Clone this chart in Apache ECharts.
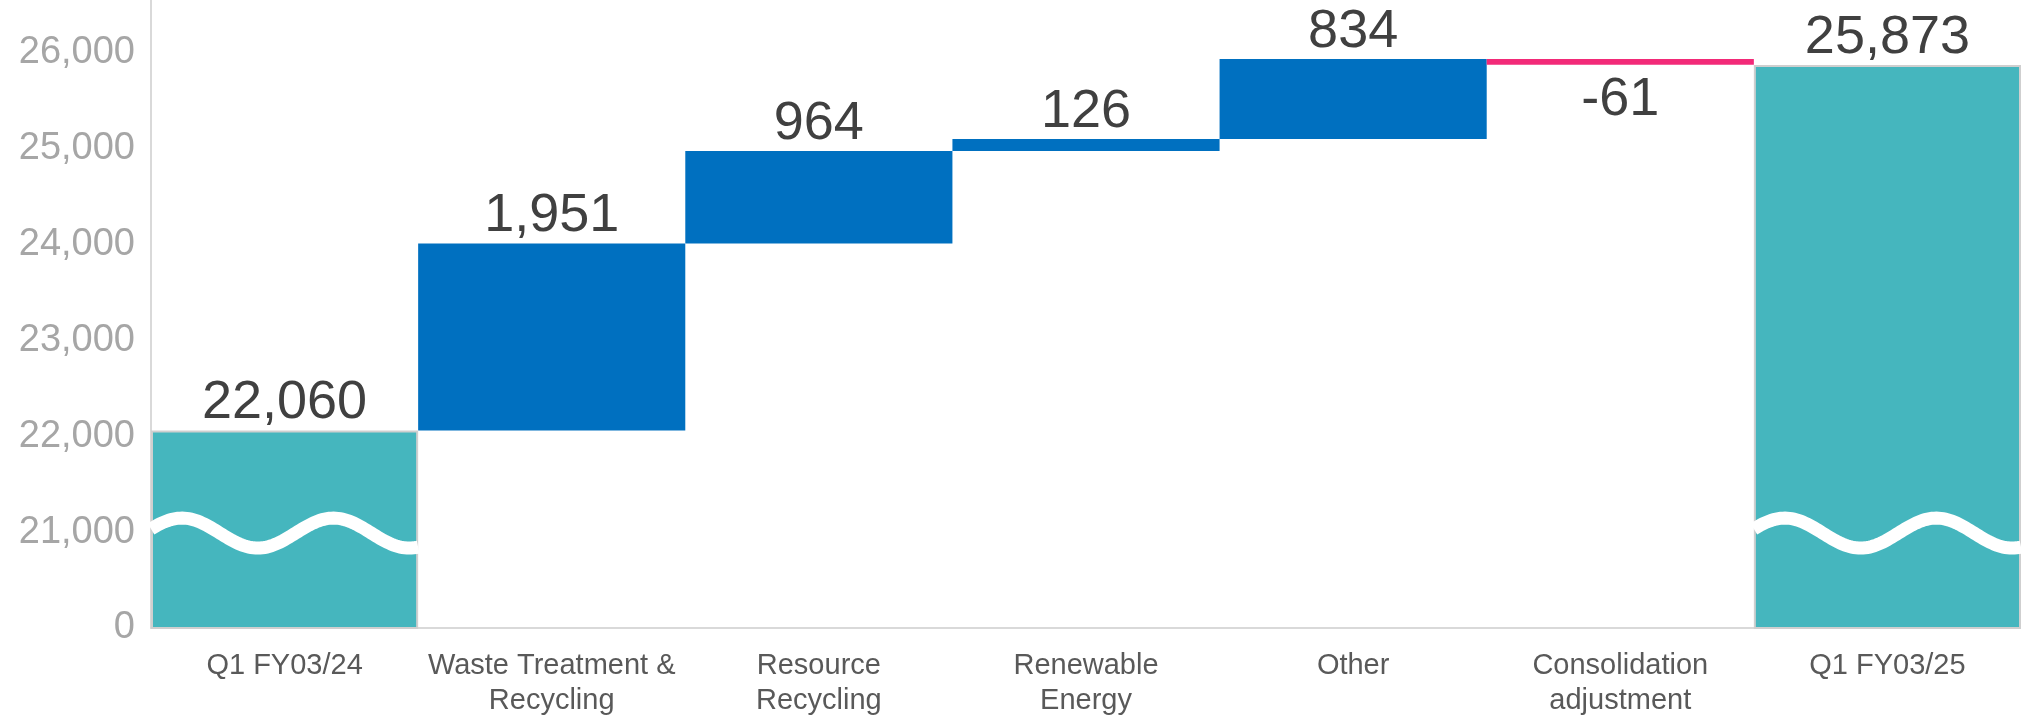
<!DOCTYPE html>
<html>
<head>
<meta charset="utf-8">
<script src="https://cdn.jsdelivr.net/npm/echarts@6/dist/echarts.min.js"></script>
<style>
  html, body { margin: 0; padding: 0; background: #ffffff; }
  #chart { width: 2021px; height: 716px; }
</style>
</head>
<body>
<div id="chart"></div>
<script>
// ---- data ----
const categories = ['Q1 FY03/24', 'Waste Treatment &\nRecycling', 'Resource\nRecycling', 'Renewable\nEnergy', 'Other', 'Consolidation\nadjustment', 'Q1 FY03/25'];
const totals = [22060, null, null, null, null, null, 25873];
const changes = [null, 1951, 964, 126, 834, -61, null];
const yTickValues = [20000, 21000, 22000, 23000, 24000, 25000, 26000];
const yTickLabels = ['0', '21,000', '22,000', '23,000', '24,000', '25,000', '26,000'];

// ---- derived waterfall series ----
const AXIS_FLOOR = 20000;   // broken axis: bottom shown as 0
const WAVE_LEVEL = 20990;
const baseData = [], upData = [], downData = [], totalData = [];
let running = 0;
categories.forEach((c, i) => {
  if (totals[i] != null) {
    running = totals[i];
    baseData.push('-'); upData.push('-'); downData.push('-');
    totalData.push(totals[i]);
  } else {
    const d = changes[i];
    const start = running, end = running + d;
    baseData.push(Math.min(start, end));
    upData.push(d > 0 ? d : '-');
    downData.push(d < 0 ? -d : '-');
    totalData.push('-');
    running = end;
  }
});
const waveData = [];
totals.forEach((t, i) => { if (t != null) waveData.push([i, WAVE_LEVEL]); });

const fmt = v => Number(v).toLocaleString('en-US');
const FONT = "'Liberation Sans', Arial, sans-serif";
const valueLabel = {
  show: true, fontSize: 54, color: '#404040', fontFamily: FONT
};

const chart = echarts.init(document.getElementById('chart'), null, { renderer: 'canvas' });
chart.setOption({
  animation: false,
  backgroundColor: '#ffffff',
  grid: { left: 151, right: 0, top: 0, bottom: 88, containLabel: false, outerBoundsMode: 'none' },
  xAxis: {
    type: 'category',
    data: categories,
    axisLine: { show: true, lineStyle: { color: '#d9d9d9', width: 2 } },
    axisTick: { show: false },
    axisLabel: {
      interval: 0, fontSize: 29, color: '#595959', fontFamily: FONT,
      lineHeight: 35, margin: 20
    },
    splitLine: { show: false }
  },
  yAxis: {
    type: 'value',
    min: AXIS_FLOOR,
    max: 26550,
    interval: 1000,
    axisLine: { show: true, lineStyle: { color: '#d9d9d9', width: 2 } },
    axisTick: { show: false },
    splitLine: { show: false },
    axisLabel: {
      fontSize: 38, color: '#a6a6a6', fontFamily: FONT, margin: 16,
      formatter: v => {
        const k = yTickValues.indexOf(v);
        return k >= 0 ? yTickLabels[k] : '';
      }
    }
  },
  series: [
    {
      name: 'base', type: 'bar', stack: 'wf', barCategoryGap: '0%',
      itemStyle: { color: 'rgba(0,0,0,0)' }, silent: true,
      data: baseData
    },
    {
      name: 'increase', type: 'bar', stack: 'wf', barCategoryGap: '0%',
      itemStyle: { color: '#0070c0' },
      label: Object.assign({}, valueLabel, { position: 'top', distance: 0, formatter: p => fmt(changes[p.dataIndex]) }),
      data: upData
    },
    {
      name: 'decrease', type: 'bar', stack: 'wf', barCategoryGap: '0%',
      itemStyle: { color: '#f22a78' },
      label: Object.assign({}, valueLabel, { position: 'bottom', distance: 8, formatter: p => fmt(changes[p.dataIndex]) }),
      data: downData
    },
    {
      name: 'total', type: 'bar', stack: 'wf', barCategoryGap: '0%',
      itemStyle: { color: '#45b6be', borderColor: '#cfcfcf', borderWidth: 2 },
      label: Object.assign({}, valueLabel, { position: 'top', distance: 0, formatter: p => fmt(totals[p.dataIndex]) }),
      data: totalData
    },
    {
      name: 'break', type: 'custom', z: 5, silent: true,
      encode: { x: 0, y: 1 },
      data: waveData,
      renderItem: function (params, api) {
        const c = api.coord([api.value(0), api.value(1)]);
        const w = api.size([1, 0])[0];
        const left = c[0] - w / 2;
        const A = 15, N = 120;
        const pts = [];
        for (let k = 0; k <= N; k++) {
          const t = k / N;
          pts.push([left + w * t, c[1] - A * Math.cos(2 * Math.PI * (t - 0.116) / 0.567)]);
        }
        return {
          type: 'polyline',
          shape: { points: pts },
          style: { stroke: '#ffffff', lineWidth: 13, fill: null }
        };
      }
    }
  ]
});
</script>
</body>
</html>
